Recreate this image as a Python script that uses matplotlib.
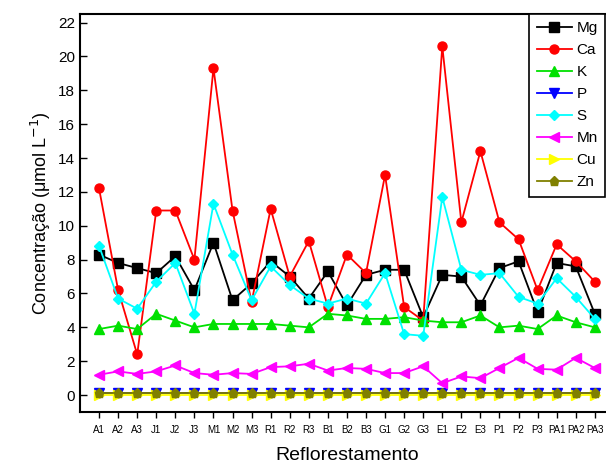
import matplotlib
matplotlib.use("Agg")
import matplotlib.pyplot as plt

plt.rcParams['font.family'] = ['Liberation Sans', 'DejaVu Sans']

sites = ["A1", "A2", "A3", "J1", "J2", "J3", "M1", "M2", "M3", "R1", "R2", "R3",
         "B1", "B2", "B3", "G1", "G2", "G3", "E1", "E2", "E3", "P1", "P2", "P3",
         "PA1", "PA2", "PA3"]

mg = [8.3, 7.8, 7.5, 7.2, 8.2, 6.2, 9.0, 5.6, 6.6, 7.9, 7.0, 5.7,
      7.3, 5.3, 7.1, 7.4, 7.4, 4.6, 7.1, 7.0, 5.3, 7.5, 7.9, 4.9,
      7.8, 7.6, 4.8]
ca = [12.2, 6.2, 2.4, 10.9, 10.9, 8.0, 19.3, 10.9, 5.5, 11.0, 7.0, 9.1,
      5.2, 8.3, 7.2, 13.0, 5.2, 4.4, 20.6, 10.2, 14.4, 10.2, 9.2, 6.2,
      8.9, 7.9, 6.7]
k = [3.9, 4.1, 3.9, 4.8, 4.4, 4.0, 4.2, 4.2, 4.2, 4.2, 4.1, 4.0,
     4.8, 4.7, 4.5, 4.5, 4.6, 4.4, 4.3, 4.3, 4.7, 4.0, 4.1, 3.9,
     4.7, 4.3, 4.0]
p = [0.1] * 27
s = [8.8, 5.7, 5.1, 6.7, 7.8, 4.8, 11.3, 8.3, 5.6, 7.6, 6.5, 5.7,
     5.4, 5.7, 5.4, 7.2, 3.6, 3.5, 11.7, 7.4, 7.1, 7.2, 5.8, 5.4,
     6.9, 5.8, 4.5]
mn = [1.2, 1.4, 1.25, 1.4, 1.75, 1.3, 1.2, 1.3, 1.25, 1.65, 1.7, 1.85,
      1.45, 1.6, 1.55, 1.3, 1.3, 1.7, 0.7, 1.1, 1.0, 1.6, 2.2, 1.55,
      1.5, 2.2, 1.6]
cu = [0.0] * 27
zn = [0.15] * 27

series = [("Mg", mg, "black", "s"), ("Ca", ca, "red", "o"), ("K", k, "#00e000", "^"),
          ("P", p, "blue", "v"), ("S", s, "cyan", "D"), ("Mn", mn, "magenta", "<"),
          ("Cu", cu, "yellow", ">"), ("Zn", zn, "olive", "p")]

fig = plt.figure(figsize=(6.06, 4.69), dpi=100)
ax = fig.add_axes([0.132, 0.1215, 0.881, 0.8485])

x = list(range(1, len(sites) + 1))
for name, vals, col, mk in series:
    ms = 5 if mk == "D" else 6.5
    ax.plot(x, vals, color=col, marker=mk, markersize=ms, lw=1.3, label=name)

ax.set_xlim(0, 28)
ax.set_ylim(-1, 22.5)
ax.set_yticks(range(0, 23, 2))
ax.set_xticks(x)
ax.set_xticklabels(sites, fontsize=7)
ax.tick_params(axis='y', direction='in', labelsize=11, length=5, width=1)
ax.tick_params(axis='x', direction='out', length=4, width=1, pad=5)
for sp in ax.spines.values():
    sp.set_linewidth(1.5)

ax.set_xlabel("Reflorestamento", fontsize=14, labelpad=9)
ax.set_ylabel("Concentração (μmol L$^{-1}$)", fontsize=13)

# legend kept inside the picture (right edge ~ figure edge)
leg = ax.legend(loc="upper right", bbox_to_anchor=(0.999, 0.9705),
                bbox_transform=fig.transFigure, borderaxespad=0, fontsize=11,
                fancybox=False, framealpha=1, edgecolor="black",
                handlelength=2.3, labelspacing=0.52, handletextpad=0.3,
                borderpad=0.5)
leg.get_frame().set_linewidth(1.2)

fig.savefig("out.png", dpi=100)
